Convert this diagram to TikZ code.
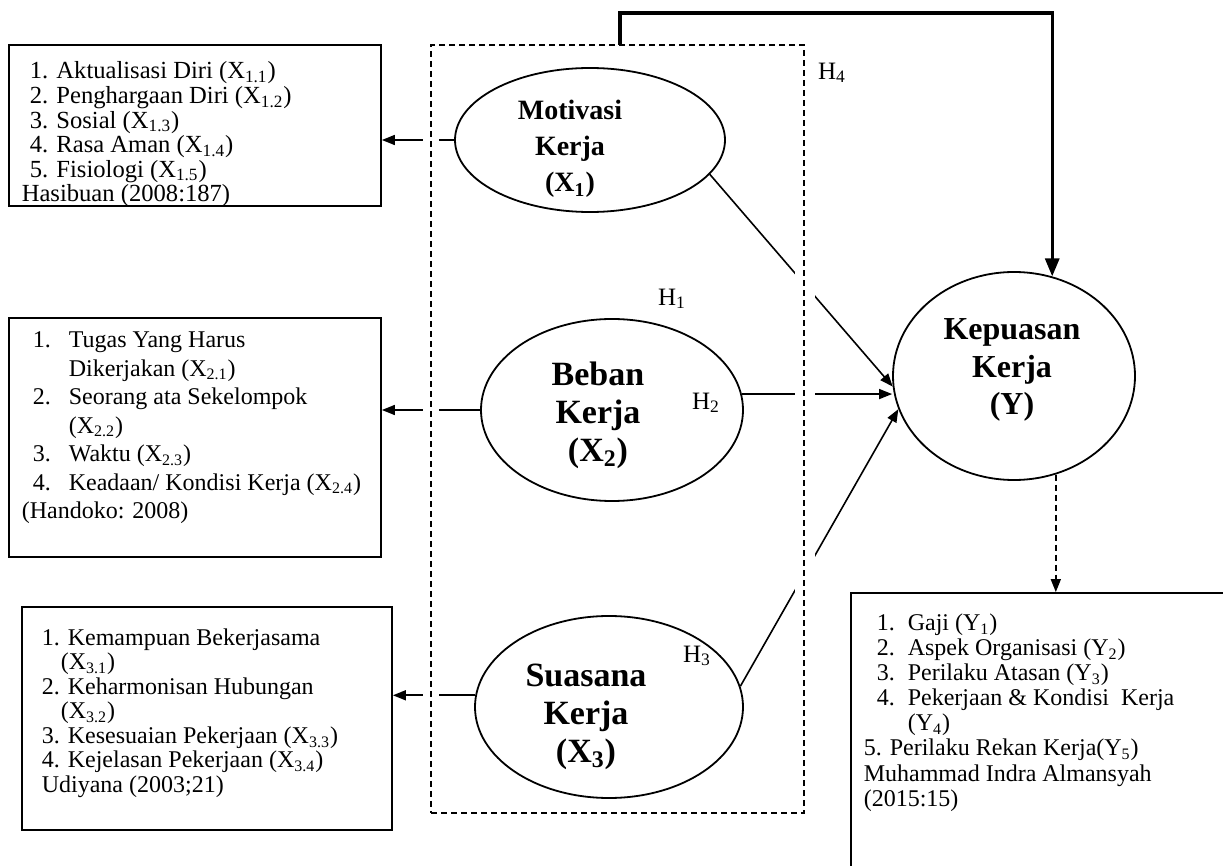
\documentclass[tikz,border=0pt]{standalone}
\usepackage{fontspec}
\setmainfont{Liberation Serif}
\usetikzlibrary{arrows.meta,shapes.geometric}
\newlength\px
\setlength\px{0.5pt}
\begin{document}
\begin{tikzpicture}[x=0.5pt,y=-0.5pt, line width=0.8pt,
  infobox/.style={draw, line width=0.9pt, inner sep=0pt},
  latent/.style={draw, ellipse, line width=0.9pt, inner sep=0pt},
  latenttext/.style={align=center, inner sep=0pt},
  hugefont/.style={font=\bfseries\fontsize{17}{19}\selectfont},
  bigfont/.style={font=\bfseries\fontsize{16}{18.75}\selectfont},
  midfont/.style={font=\bfseries\fontsize{14}{18}\selectfont},
  tip/.style={-{Triangle[length=6.5pt,width=5pt]}},
  hyp/.style={inner sep=0pt, font=\fontsize{12.5}{14}\selectfont},
  listtext/.style={anchor=north west, inner sep=0pt, align=left},
]
\clip (0,0) rectangle (1223,866);

% indicator boxes
\node[infobox, minimum width=186pt, minimum height=80.5pt] (b1) at (195,125.25) {};
\node[infobox, minimum width=186pt, minimum height=119.5pt] (b2) at (195,437.5) {};
\node[infobox, minimum width=185pt, minimum height=111.5pt] (b3) at (207,718.5) {};
\node[infobox, minimum width=194.5pt, minimum height=153.5pt] (by) at (1045.5,746.5) {};

\node[listtext, font=\fontsize{12.3}{12.3}\selectfont] (t1) at (21,61) {%
\hspace*{8\px}1. Aktualisasi Diri (X\textsubscript{1.1})\\
\hspace*{8\px}2. Penghargaan Diri (X\textsubscript{1.2})\\
\hspace*{8\px}3. Sosial (X\textsubscript{1.3})\\
\hspace*{8\px}4. Rasa Aman (X\textsubscript{1.4})\\
\hspace*{8\px}5. Fisiologi (X\textsubscript{1.5})\\
Hasibuan (2008:187)};

\node[listtext, font=\fontsize{12}{14.25}\selectfont] (t2) at (21,331) {%
\hspace*{11\px}\makebox[36\px][l]{1.}Tugas Yang Harus\\
\hspace*{47\px}Dikerjakan (X\textsubscript{2.1})\\
\hspace*{11\px}\makebox[36\px][l]{2.}Seorang ata Sekelompok\\
\hspace*{47\px}(X\textsubscript{2.2})\\
\hspace*{11\px}\makebox[36\px][l]{3.}Waktu (X\textsubscript{2.3})\\
\hspace*{11\px}\makebox[36\px][l]{4.}Keadaan/ Kondisi Kerja (X\textsubscript{2.4})\\
(Handoko: 2008)};

\node[listtext, font=\fontsize{12}{12.25}\selectfont] (t3) at (41,628) {%
1. Kemampuan Bekerjasama\\
\hspace*{19\px}(X\textsubscript{3.1})\\
2. Keharmonisan Hubungan\\
\hspace*{19\px}(X\textsubscript{3.2})\\
3. Kesesuaian Pekerjaan (X\textsubscript{3.3})\\
4. Kejelasan Pekerjaan (X\textsubscript{3.4})\\
Udiyana (2003;21)};

\node[listtext, font=\fontsize{12}{12.55}\selectfont] (ty) at (863,613) {%
\hspace*{13\px}\makebox[31\px][l]{1.}Gaji (Y\textsubscript{1})\\
\hspace*{13\px}\makebox[31\px][l]{2.}Aspek Organisasi (Y\textsubscript{2})\\
\hspace*{13\px}\makebox[31\px][l]{3.}Perilaku Atasan (Y\textsubscript{3})\\
\hspace*{13\px}\makebox[31\px][l]{4.}Pekerjaan \& Kondisi\ \ Kerja\\
\hspace*{44\px}(Y\textsubscript{4})\\
5. Perilaku Rekan Kerja(Y\textsubscript{5})\\
Muhammad Indra Almansyah\\
(2015:15)};

% latent variables (outlines)
\node[latent, minimum width=135pt, minimum height=72pt] (x1) at (590,140) {};
\node[latent, minimum width=131pt, minimum height=91pt] (x2) at (612,410) {};
\node[latent, minimum width=134pt, minimum height=91pt] (x3) at (609,707) {};
\node[latent, minimum width=121pt, minimum height=104pt] (y) at (1014,376) {};
% latent variable names
\node[latenttext, midfont] (x1t) at (570,149) {Motivasi\\Kerja\\(X\textsubscript{1})};
\node[latenttext, hugefont] (x2t) at (598,415) {Beban\\Kerja\\(X\textsubscript{2})};
\node[latenttext, hugefont] (x3t) at (586,717) {Suasana\\Kerja\\(X\textsubscript{3})};
\node[latenttext, bigfont] (yt) at (1012,370) {Kepuasan\\Kerja\\(Y)};

% hypothesis labels
\node[hyp] (h1) at (672,299) {H\textsubscript{1}};
\node[hyp] (h2) at (706,403) {H\textsubscript{2}};
\node[hyp] (h3) at (697,656) {H\textsubscript{3}};
\node[hyp] (h4) at (832,73) {H\textsubscript{4}};

% connectors to indicator boxes
\draw[tip] (x1.west) -- (x1.west -| b1.east);
\draw[tip] (x2.west) -- (x2.west -| b2.east);
\draw[tip] (x3.175) -- (x3.175 -| b3.east);

% hypotheses paths
\draw[tip] (x1.-16) -- (y.185);
\draw[tip] (x2.7) -- (x2.7 -| y.west);
\draw[tip] (x3.9) -- (y.196);

% gaps where paths cross the dashed frame
\fill[white] (423,47) rectangle (439,811);
\fill[white] (795,47) rectangle (815,811);

% dashed frame
\node[draw, dashed, dash pattern=on 3pt off 2pt, line width=0.8pt, minimum width=186.5pt, minimum height=384pt, inner sep=0pt] (grp) at (617.5,429) {};

% simultaneous path H4
\coordinate (h4start) at (620,45);
\coordinate (h4top) at (620,13);
\draw[line width=1.6pt, -{Triangle[length=9pt,width=7pt]}] (h4start) -- (h4top) -| (y.69);

% Y to its indicators
\draw[dashed, dash pattern=on 3pt off 2pt, -{Triangle[length=6.5pt,width=5pt]}] (y.-67) -- (y.-67 |- by.north);
\end{tikzpicture}
\end{document}
